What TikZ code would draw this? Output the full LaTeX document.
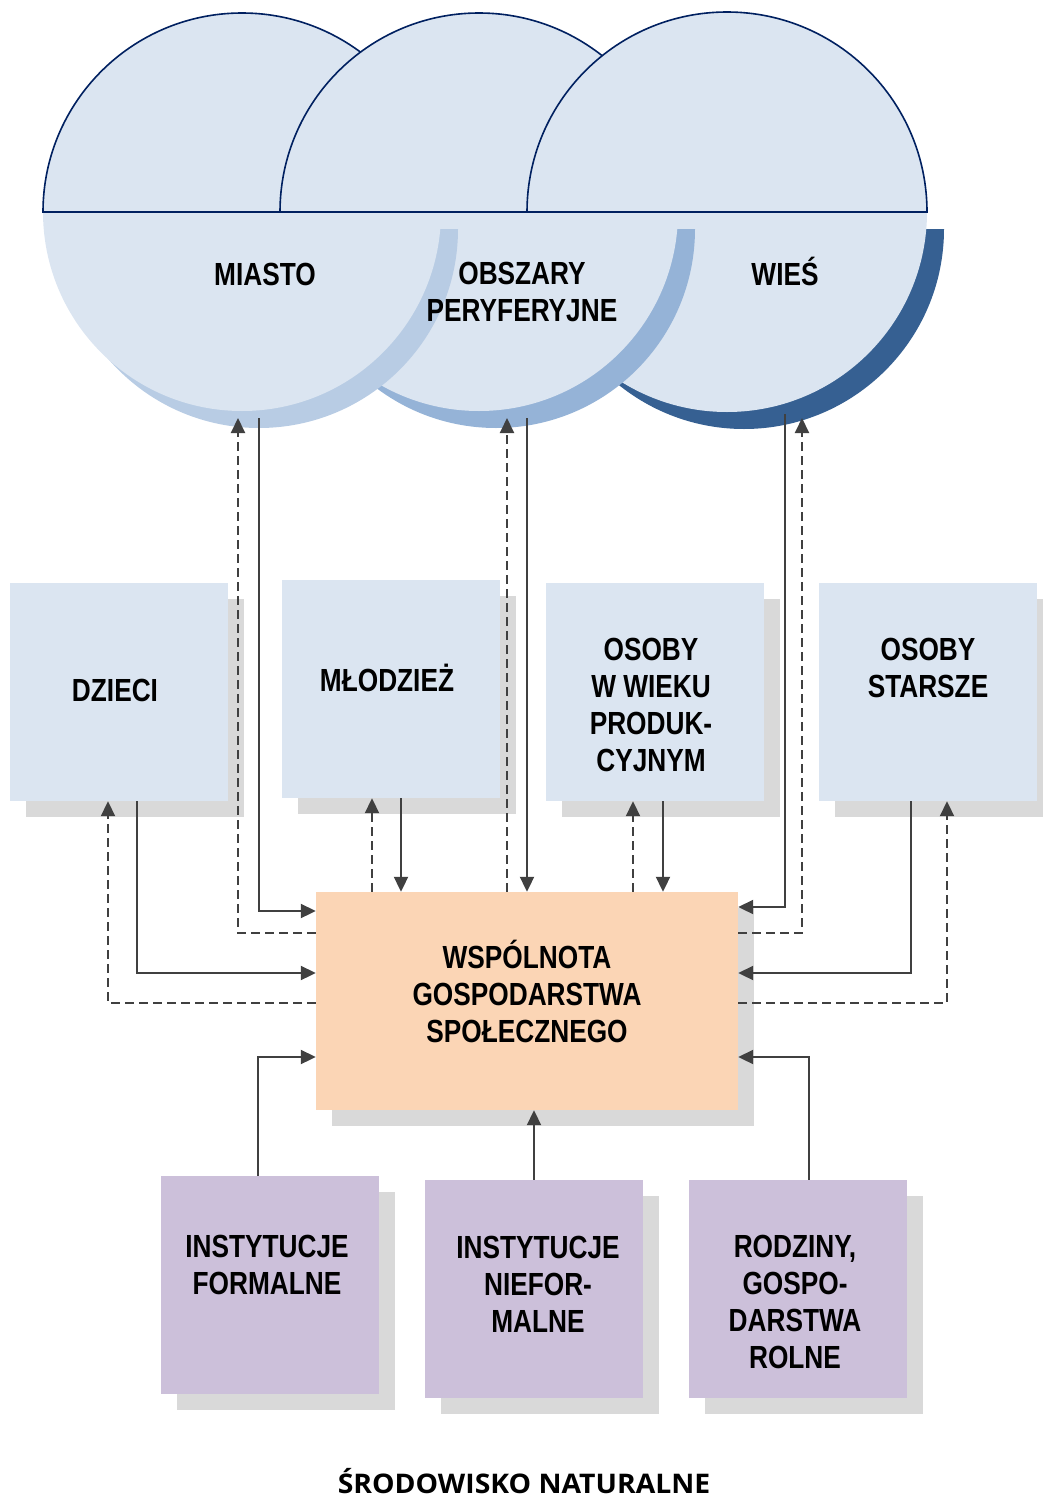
\documentclass[tikz,border=0pt]{standalone}
\usepackage{fontspec}
\setmainfont{Liberation Sans}[FakeStretch=0.82]
\newfontfamily\footfont{Open Sans}[FakeStretch=1.05]
\usetikzlibrary{arrows.meta}
\definecolor{circfill}{HTML}{DBE5F1}
\definecolor{circline}{HTML}{002060}
\definecolor{shadeA}{HTML}{B8CCE4}
\definecolor{shadeB}{HTML}{95B3D7}
\definecolor{shadeC}{HTML}{366092}
\definecolor{shadowgray}{HTML}{D9D9D9}
\definecolor{peach}{HTML}{FBD5B5}
\definecolor{lilac}{HTML}{CCC0DA}
\definecolor{arrgray}{HTML}{404040}
\begin{document}
\begin{tikzpicture}[x=1pt, y=-1pt,
  lbl/.style={align=center, inner sep=0pt, font=\fontsize{32}{37}\selectfont\bfseries},
  blk/.style={rectangle, inner sep=0pt, minimum width=218pt, minimum height=218pt,
    preaction={fill=shadowgray, transform canvas={shift={(16pt,-16pt)}}}},
  arr/.style={draw=arrgray, line width=2pt, -{Triangle[length=15pt, width=14pt]}},
  dasharr/.style={arr, dash pattern=on 9pt off 5pt}]
\useasboundingbox (0,0) rectangle (1042,1499);
% lower halves, back to front
\fill[shadeC] (544,229) arc[start angle=180, end angle=0, radius=200] -- cycle;
\fill[circfill] (527,212) arc[start angle=180, end angle=0, radius=200] -- cycle;
\fill[shadeB] (297,229) arc[start angle=180, end angle=0, radius=199] -- cycle;
\fill[circfill] (280,212) arc[start angle=180, end angle=0, radius=199] -- cycle;
\fill[shadeA] (60,229) arc[start angle=180, end angle=0, radius=199] -- cycle;
\fill[circfill] (43,212) arc[start angle=180, end angle=0, radius=199] -- cycle;
% upper halves
\filldraw[fill=circfill, draw=circline, line width=1.6pt] (43,212) arc[start angle=180, end angle=360, radius=199] -- cycle;
\filldraw[fill=circfill, draw=circline, line width=1.6pt] (280,212) arc[start angle=180, end angle=360, radius=199] -- cycle;
\filldraw[fill=circfill, draw=circline, line width=1.6pt] (527,212) arc[start angle=180, end angle=360, radius=200] -- cycle;
\node[lbl] (miasto) at (265,274) {MIASTO};
\node[lbl] (obszary) at (522,292) {OBSZARY\\PERYFERYJNE};
\node[lbl] (wies) at (785,271) {WIEŚ};
\coordinate (miastoA) at (238,418);
\coordinate (miastoB) at (259,418);
\coordinate (obszaryA) at (507,418);
\coordinate (obszaryB) at (527,418);
\coordinate (wiesA) at (785,414);
\coordinate (wiesB) at (802,418);

\node[blk, fill=circfill] (dzieci) at (119,692) {};
\node[blk, fill=circfill] (mlodziez) at (390.5,689) {};
\node[blk, fill=circfill] (produk) at (654.5,692) {};
\node[blk, fill=circfill] (starsze) at (927.5,692) {};
\node[lbl] (dzieciL) at (115,690) {DZIECI};
\node[lbl] (mlodziezL) at (387,678) {MŁODZIEŻ};
\node[lbl] (produkL) at (651,705) {OSOBY\\W WIEKU\\PRODUK-\\CYJNYM};
\node[lbl] (starszeL) at (928,668) {OSOBY\\STARSZE};

\node[blk, fill=peach, minimum width=422pt] (wspolnota) at (527,1001) {};
\node[lbl] (wspolnotaL) at (527,991) {WSPÓLNOTA\\GOSPODARSTWA\\SPOŁECZNEGO};

\node[blk, fill=lilac] (formalne) at (270,1285) {};
\node[blk, fill=lilac] (nieformalne) at (534,1289) {};
\node[blk, fill=lilac] (rodziny) at (798,1289) {};
\node[lbl] (formalneL) at (267,1265) {INSTYTUCJE\\FORMALNE};
\node[lbl] (nieformalneL) at (538,1284) {INSTYTUCJE\\NIEFOR-\\MALNE};
\node[lbl] (rodzinyL) at (795,1302) {RODZINY,\\GOSPO-\\DARSTWA\\ROLNE};

\node[inner sep=0pt, font=\fontsize{27}{30}\selectfont\footfont\bfseries] (srodowisko) at (524,1481) {ŚRODOWISKO NATURALNE};

\draw[arr] (miastoB) |- ([yshift=90pt]wspolnota.west);
\draw[dasharr] ([yshift=68pt]wspolnota.west) -| (miastoA);
\draw[arr] ([xshift=18pt]dzieci.south) |- ([yshift=28pt]wspolnota.west);
\draw[dasharr] ([yshift=-2pt]wspolnota.west) -| ([xshift=-11pt]dzieci.south);
\draw[arr] ([xshift=10.5pt]mlodziez.south) -- ([xshift=10.5pt]mlodziez.south |- wspolnota.north);
\draw[dasharr] ([xshift=-18.5pt]mlodziez.south |- wspolnota.north) -- ([xshift=-18.5pt]mlodziez.south);
\draw[dasharr] (obszaryA |- wspolnota.north) -- (obszaryA);
\draw[arr] (obszaryB) -- (obszaryB |- wspolnota.north);
\draw[arr] ([xshift=8.5pt]produk.south) -- ([xshift=8.5pt]produk.south |- wspolnota.north);
\draw[dasharr] ([xshift=-21.5pt]produk.south |- wspolnota.north) -- ([xshift=-21.5pt]produk.south);
\draw[arr] (wiesA) |- ([yshift=94pt]wspolnota.east);
\draw[dasharr] ([yshift=68pt]wspolnota.east) -| (wiesB);
\draw[arr] ([xshift=-16.5pt]starsze.south) |- ([yshift=28pt]wspolnota.east);
\draw[dasharr] ([yshift=-2pt]wspolnota.east) -| ([xshift=19.5pt]starsze.south);
\draw[arr] ([xshift=-12pt]formalne.north) |- ([yshift=-56pt]wspolnota.west);
\draw[arr] (nieformalne.north) -- (nieformalne.north |- wspolnota.south);
\draw[arr] ([xshift=11pt]rodziny.north) |- ([yshift=-56pt]wspolnota.east);
\end{tikzpicture}
\end{document}
